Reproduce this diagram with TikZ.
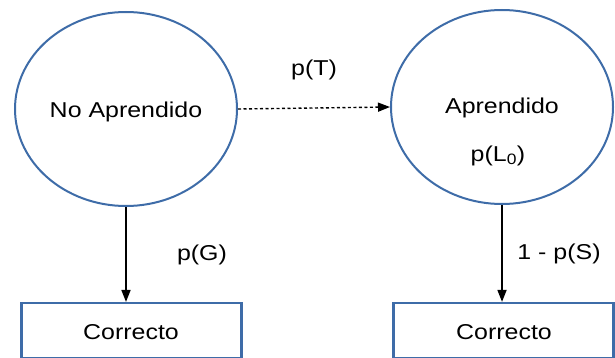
\documentclass[tikz,border=0pt]{standalone}
\usepackage{fontspec}
\setmainfont{Liberation Sans}[FakeStretch=1.16]
\usetikzlibrary{shapes.geometric,arrows.meta}
\definecolor{bordeazul}{RGB}{62,108,168}
\tikzset{
    estado/.style={ellipse,draw=bordeazul,line width=2pt,minimum width=222pt,minimum height=194pt,inner sep=0pt},
    resultado/.style={rectangle,draw=bordeazul,line width=2.2pt,minimum width=220pt,minimum height=55pt,inner sep=0pt},
    flecha/.style={-{Triangle[length=12pt,width=9pt]},line width=1.7pt},
  }

\begin{document}
\begin{tikzpicture}[x=1pt,y=-1pt,font=\fontsize{21.5}{24}\selectfont]
				  %cadre de l'image
				  \clip (0,0) rectangle (615,358);
				  \node[estado](NA) at (126,109) {};
				  \node[estado](A) at (502,107) {};
				  \node(tNA) at (126,112) {No Aprendido};
				  \node(tA) at (502,108) {Aprendido};
				  \node(tL) at (498,156) {p(L\textsubscript{0})};
				  \node[resultado](C1) at (131.5,330.5) {};
				  \node[resultado](C2) at (503.5,330.5) {};
				  \node(t1) at (131,332) {Correcto};
				  \node(t2) at (504,332) {Correcto};

				  %transitions
				  \draw[flecha,line width=1.4pt,dash pattern=on 3pt off 2.5pt] (NA.east) -- (A.west) node[midway,yshift=38pt]{p(T)};
				  \draw[flecha] (NA.south) -- (NA.south|-C1.north) node[midway,xshift=76pt]{p(G)};
				  \draw[flecha] (A.south) -- (A.south|-C2.north) node[midway,xshift=57pt]{1 - p(S)};
				  \end{tikzpicture}
\end{document}
